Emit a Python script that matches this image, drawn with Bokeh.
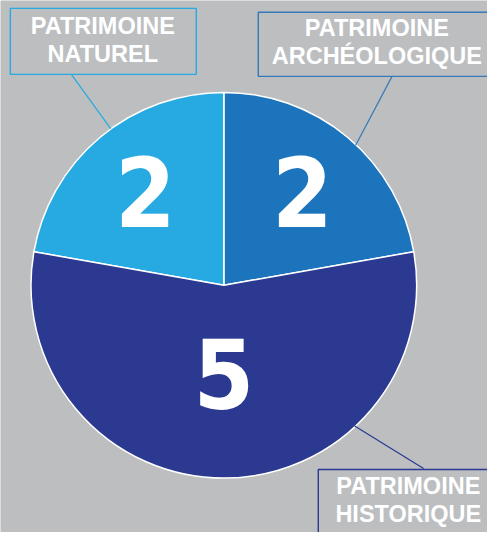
import math
from bokeh.plotting import figure
from bokeh.models import Range1d, ColumnDataSource
from bokeh.core.properties import value
from bokeh.embed import file_html
from bokeh.resources import INLINE

# ---- data ----
categories = ["ARCHÉOLOGIQUE", "NATUREL", "HISTORIQUE"]
label_line1 = ["PATRIMOINE", "PATRIMOINE", "PATRIMOINE"]
values = [2, 2, 5]
colors = ["#1c75bc", "#27aae1", "#2b3990"]
border_colors = ["#3579b9", "#27aae1", "#2b3990"]

BG = "#bcbec0"
W, H = 487, 532
RW, RH = 495, 540  # reference frame (data coords = reference pixels)
BASE_FIX = 0.37    # renderer places alphabetic baseline ~0.37em low


def Y(py):
    return RH - py


p = figure(width=W, height=H, output_backend="svg", toolbar_location=None,
           x_range=Range1d(0, RW), y_range=Range1d(0, RH),
           x_axis_location=None, y_axis_location=None, min_border=0,
           background_fill_color=BG, border_fill_color=BG, outline_line_color=None)
p.grid.visible = False

# ---- pie ----
cx, cy, R = 227, Y(289), 196
total = sum(values)
start0 = math.radians(10)
starts, ends, mids = [], [], []
acc = start0
for v in values:
    a = 2 * math.pi * v / total
    starts.append(acc)
    ends.append(acc + a)
    mids.append(acc + a / 2)
    acc += a

src = ColumnDataSource(dict(start=starts, end=ends, color=colors))
p.wedge(x=cx, y=cy, radius=R, start_angle="start", end_angle="end",
        fill_color="color", line_color="white", line_width=1.5, source=src)

# ---- value labels ----
DIG = 97
label_r = [124, 124, 90]
vx = [cx + r * math.cos(m) for r, m in zip(label_r, mids)]
vy = [cy + r * math.sin(m) - 36 + BASE_FIX * DIG for r, m in zip(label_r, mids)]
p.text(x=vx, y=vy, text=[str(v) for v in values], text_color="white",
       text_font=value("'Liberation Sans Narrow', 'Noto Sans Condensed', 'DejaVu Sans Condensed', 'Roboto Condensed', sans-serif"),
       text_font_style="bold",
       text_font_size=f"{DIG}px", text_align="center", text_baseline="alphabetic")

# ---- category boxes ----
boxes = [  # left, right, top, bottom (pixel)
    (262, 500, 12, 77),
    (10, 199, 8, 75),
    (323, 500, 476, 545),
]
p.quad(left=[b[0] for b in boxes], right=[b[1] for b in boxes],
       top=[Y(b[2]) for b in boxes], bottom=[Y(b[3]) for b in boxes],
       fill_color=None, line_color=border_colors, line_width=1.4)

LAB = 23.5
text_pos = [(382.5, 37, 65), (104, 35, 63), (414.5, 502, 530)]
for (tx, b1, b2), l1, l2 in zip(text_pos, label_line1, categories):
    p.text(x=[tx, tx], y=[Y(b1) + BASE_FIX * LAB, Y(b2) + BASE_FIX * LAB],
           text=[l1, l2], text_color="white",
           text_font=value("Liberation Sans"), text_font_style="bold",
           text_font_size=f"{LAB}px", text_align="center", text_baseline="alphabetic")

# ---- leader lines ----
leaders = [((398, 77), (361, 147)), ((72, 75), (112, 130)), ((360, 432), (430, 475))]
p.segment(x0=[l[0][0] for l in leaders], y0=[Y(l[0][1]) for l in leaders],
          x1=[l[1][0] for l in leaders], y1=[Y(l[1][1]) for l in leaders],
          line_color=border_colors, line_width=1.2)

open("out.html", "w").write(file_html(p, INLINE))
